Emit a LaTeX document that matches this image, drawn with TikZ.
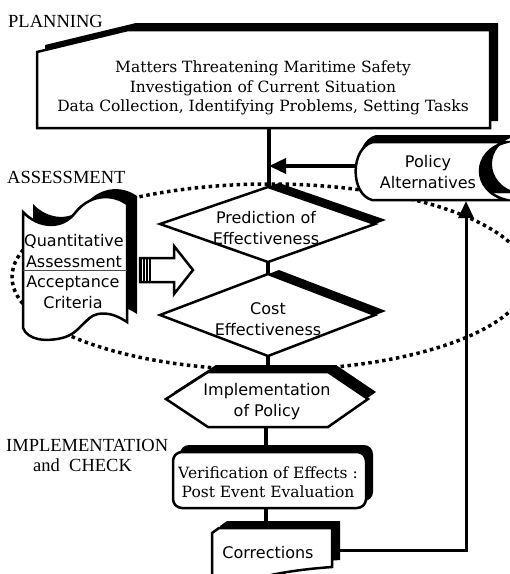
\documentclass[tikz,border=0pt]{standalone}
\usepackage{fontspec}
\setmainfont{Liberation Serif}
\newfontfamily\bserif{DejaVu Serif}
\newfontfamily\bsans{DejaVu Sans}
\usetikzlibrary{arrows.meta}
\begin{document}
\begin{tikzpicture}[x=1pt,y=-1pt,
 lab/.style={font=\fontsize{18.5}{20}\selectfont, inner sep=0pt, anchor=base west},
 sertxt/.style={font=\bserif\fontsize{15.5}{19.5}\selectfont, align=center, inner sep=0pt},
 santxt/.style={font=\bsans\fontsize{16}{21}\selectfont, align=center, inner sep=0pt},
 front/.style={draw=black, fill=white, line width=2.5pt, line join=miter},
 shad/.style={fill=black},
 conn/.style={line width=3.5pt},
 ret/.style={line width=3pt},
 tip/.style={-{Triangle[length=17pt,width=15pt]}},
 dots/.style={line width=3.5pt, dash pattern=on 3.5pt off 3.5pt},
 planshape/.style={insert path={(37,52) -- (128,30) -- (490,30) -- (490,128) -- (37,128) -- cycle}},
 polshape/.style={insert path={(373,142) -- (507,142) .. controls (471,150) and (471,192) .. (507,200) -- (372,200) .. controls (350,194) and (350,148) .. (373,142) -- cycle}},
 quantshape/.style={insert path={(23,212) .. controls (38,228) and (62,230) .. (75,213) .. controls (88,196) and (110,192) .. (127,204) -- (127,322) .. controls (118,316) and (108,312) .. (98,314) .. controls (85,316) and (80,334) .. (62,338) .. controls (45,342) and (28,340) .. (23,328) -- cycle}},
 dAshape/.style={insert path={(160,224) -- (268,187) -- (375,224) -- (268,262) -- cycle}},
 dBshape/.style={insert path={(160,315) -- (268,274) -- (375,315) -- (268,356) -- cycle}},
 hexshape/.style={insert path={(166,399) -- (208,372) -- (328,372) -- (368,399) -- (328,427) -- (208,427) -- cycle}},
 verishape/.style={rounded corners=9pt, insert path={(173,452) rectangle (366,508)}},
 corrshape/.style={insert path={(212,533) -- (219,528) -- (332,528) -- (332,567) .. controls (305,569) and (280,572) .. (250,580) -- (212,580) -- cycle}}
]
\useasboundingbox (0,0) rectangle (510,574);

% dotted assessment ellipse
\draw[dots] (270,277) ellipse [x radius=258, y radius=93];

% labels
\node[lab] (lplan) at (8,27) {PLANNING};
\node[lab] (lass) at (7,183) {ASSESSMENT};
\node[lab] (limp) at (6,451) {IMPLEMENTATION};
\node[lab] (lchk) at (33,471) {and\ \ CHECK};

% planning box
\fill[shad, shift={(8,-7)}, planshape];
\path[front, planshape];
\node[sertxt] (plan) at (263,88) {Matters Threatening Maritime Safety\\Investigation of Current Situation\\Data Collection, Identifying Problems, Setting Tasks};

% policy alternatives
\fill[shad, shift={(3,-7)}, polshape];
\fill[shad, shift={(12,-7)}, polshape];
\path[front, polshape];
\node[santxt] (pol) at (428,172) {Policy\\Alternatives};

% quantitative assessment box
\fill[shad, shift={(10,-8)}, quantshape];
\path[front, quantshape];
\draw[line width=1pt, black!70] (23,270) -- (127,270);
\node[santxt] (qa) at (74,251) {Quantitative\\Assessment};
\node[santxt] (ac) at (73,292) {Acceptance\\Criteria};

% hollow arrow
\draw[line width=2.5pt, fill=white, line join=miter] (140,258) -- (174,258) -- (174,246) -- (193,270) -- (174,294) -- (174,282) -- (140,282) -- cycle;
\foreach \xx in {141,144,147,150} \draw[line width=1.3pt] (\xx,258) -- (\xx,282);

% diamonds
\fill[shad, shift={(11,-4)}, dAshape];
\path[front, dAshape];
\node[santxt] (dA) at (266,228) {Prediction of\\Effectiveness};
\fill[shad, shift={(11,-4)}, dBshape];
\path[front, dBshape];
\node[santxt] (dB) at (268,319) {Cost\\Effectiveness};

% implementation hexagon
\fill[shad, shift={(8,-7)}, hexshape];
\path[front, hexshape];
\node[santxt] (hex) at (267,402) {Implementation\\of Policy};

% verification box
\fill[shad, shift={(7,-7)}, verishape];
\path[front, verishape];
\node[sertxt] (veri) at (268,482) {Verification of Effects :\\Post Event Evaluation};

% corrections
\fill[shad, shift={(8,-7)}, corrshape];
\path[front, corrshape];
\node[santxt] (corr) at (268,553) {Corrections};

% anchor points
\coordinate (plan-s) at (269,128);
\coordinate (dA-n) at (269,188);
\coordinate (dA-s) at (268,261);
\coordinate (dB-n) at (268,275);
\coordinate (dB-s) at (268,355);
\coordinate (hex-n) at (268,373);
\coordinate (hex-s) at (266,426);
\coordinate (veri-n) at (266,453);
\coordinate (veri-s) at (266,507);
\coordinate (corr-n) at (266,528);
\coordinate (corr-e) at (340,550);
\coordinate (pol-w) at (356,166);
\coordinate (pol-s) at (466,201);
\coordinate (join) at (269,166);

% connectors
\draw[conn] (plan-s) -- (dA-n);
\draw[conn, tip] (pol-w) -- (join);
\draw[conn] (dA-s) -- (dB-n);
\draw[conn] (dB-s) -- (hex-n);
\draw[conn] (hex-s) -- (veri-n);
\draw[conn] (veri-s) -- (corr-n);
\draw[ret, tip] (corr-e) -| (pol-s);
\end{tikzpicture}
\end{document}
